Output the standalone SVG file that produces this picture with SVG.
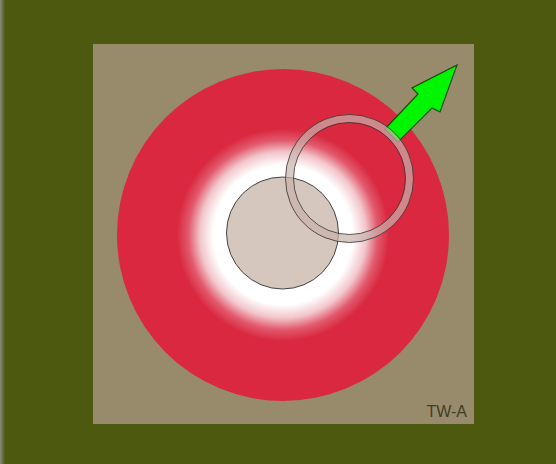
<svg xmlns="http://www.w3.org/2000/svg" width="556" height="464" viewBox="0 0 556 464">
<defs>
<radialGradient id="rg" cx="283" cy="235" r="166" gradientUnits="userSpaceOnUse">
<stop offset="0" stop-color="#ffffff"/>
<stop offset="0.42" stop-color="#ffffff"/>
<stop offset="0.5" stop-color="#f2c6cc"/>
<stop offset="0.57" stop-color="#e25a6d"/>
<stop offset="0.64" stop-color="#d92840"/>
<stop offset="1" stop-color="#d92840"/>
</radialGradient>
<linearGradient id="lg" x1="0" y1="0" x2="1" y2="0">
<stop offset="0" stop-color="#8a8a80"/>
<stop offset="1" stop-color="#4d590e"/>
</linearGradient>
</defs>
<style>
.outline{fill:none;stroke:#3a302e;stroke-width:1;stroke-opacity:0.8}
</style>
<rect x="0" y="0" width="556" height="464" fill="#4d590e"/>
<rect x="0" y="0" width="5" height="464" fill="url(#lg)"/>
<rect x="93" y="44" width="381" height="380" fill="#988b6c"/>
<g id="zone">
<circle cx="283" cy="235" r="166" fill="url(#rg)"/>
</g>
<g id="core">
<circle cx="282.5" cy="233" r="56" fill="#d5c7bd" stroke="#444" stroke-width="1"/>
</g>
<g id="arrow">
<polygon points="385,129 418,94 412,88 457,65 440,112 432,108 398,142" fill="#00f500" stroke="#1a4a0c" stroke-width="1.2" stroke-linejoin="miter"/>
</g>
<g id="ring">
<circle cx="349.5" cy="178.5" r="60" fill="none" stroke="#c8b2ad" stroke-width="8" stroke-opacity="0.7"/>
<circle class="outline" cx="349.5" cy="178.5" r="64"/>
<circle class="outline" cx="349.5" cy="178.5" r="56"/>
</g>
<text x="467" y="417" text-anchor="end" font-family="Liberation Sans, Arial, sans-serif" font-size="16" fill="#3e3e28">TW-A</text>
</svg>
